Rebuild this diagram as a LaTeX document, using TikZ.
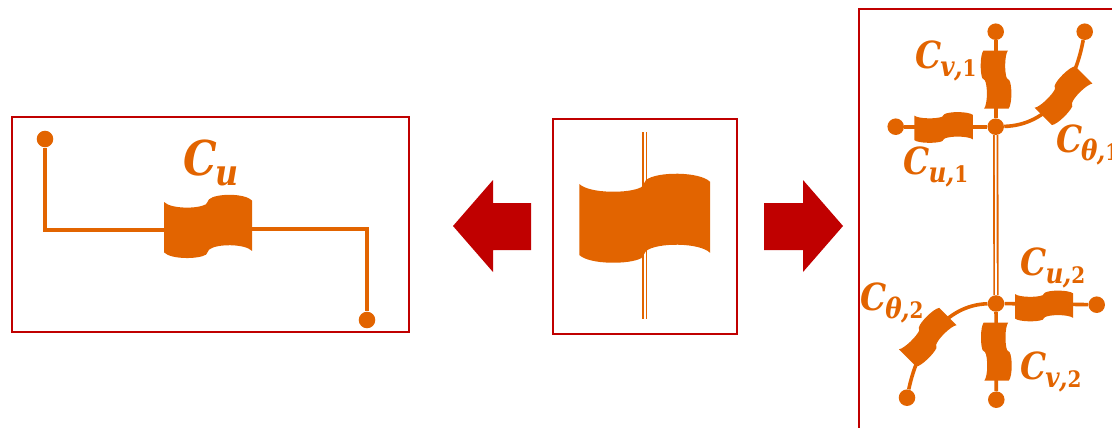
\documentclass[tikz,border=0pt]{standalone}
\usepackage{fontspec}
\setmainfont[FakeStretch=0.88]{DejaVu Serif}
\definecolor{flagc}{HTML}{E26400}
\definecolor{framec}{HTML}{C00000}
\newcommand{\biglbl}[1]{\fontsize{36}{36}\selectfont\bfseries\itshape C\kern-1.5pt\raisebox{-7.5pt}{\fontsize{27}{27}\selectfont #1}}
\newcommand{\smalllbl}[2]{\fontsize{28}{28}\selectfont\bfseries\itshape C\kern-1pt\raisebox{-6pt}{\fontsize{21}{21}\selectfont #1\kern-.5pt,\upshape\fontsize{17}{17}\selectfont #2}}
\tikzset{
  x=0.75pt,y=-0.75pt,
  framebox/.style={draw=framec,line width=1.5pt},
  wire/.style={draw=flagc,line width=2.7pt},
  rail/.style={draw=flagc,line width=1.4pt,double=white,double distance=1.2pt},
  dot/.style={circle,fill=flagc,inner sep=0pt,minimum size=12.4pt},
  bigarrow/.style={fill=framec},
  lbl/.style={text=flagc,inner sep=0pt,anchor=center},
  flag/.pic={
    \fill[flagc] (-65.2,-34.35) .. controls (-55,-24.6) and (-15,-24.6) .. (-3,-31.3)
      .. controls (-1,-33) and (-0.5,-36) .. (1.5,-38.3)
      .. controls (12,-47) and (55,-47) .. (65.5,-36.6)
      -- (65.5,34.4)
      .. controls (55,24) and (12,24) .. (1.5,32.7)
      .. controls (-0.5,35) and (-1,38) .. (-3,39.7)
      .. controls (-15,46.4) and (-55,46.4) .. (-65.2,36.65) -- cycle;
  }
}
\begin{document}
\begin{tikzpicture}
\useasboundingbox (0,0) rectangle (1112,428);
% frames
\draw[framebox] (12,116.5) rectangle (409,331.5);
\draw[framebox] (552.5,118.5) rectangle (737,334);
\draw[framebox] (1112,9.5) -- (858.5,9.5) -- (858.5,428);
% big arrows
\fill[bigarrow] (453,226) -- (493,180) -- (493,203) -- (531,203) -- (531,250) -- (493,250) -- (493,272) -- cycle;
\fill[bigarrow] (843,226) -- (803,180) -- (803,203) -- (764,203) -- (764,250) -- (803,250) -- (803,272) -- cycle;
% left panel
\node[dot] (a) at (45,139) {};
\node[dot] (b) at (367,320) {};
\coordinate (acorner) at (45,230);
\coordinate (aflag) at (208,230);
\coordinate (bflag) at (208,229);
\coordinate (bcorner) at (367,229);
\draw[wire] (a) -- (acorner) -- (aflag);
\draw[wire] (bflag) -- (bcorner) -- (b);
\pic[xscale=.672,yscale=.71] at (208,226.5) {flag};
\node[lbl] (lu) at (211,163) {\biglbl{u}};
% centre panel
\coordinate (railtop) at (644.8,132);
\coordinate (railbot) at (644.8,319);
\draw[rail] (railtop) -- (railbot);
\pic at (644.5,218.35) {flag};
% right panel
\node[dot] (j1) at (995.7,126.7) {};
\node[dot] (j2) at (996,303.5) {};
\node[dot] (v1) at (995.7,31.7) {};
\node[dot] (t1) at (1084.7,31.7) {};
\node[dot] (u1) at (895.7,126.7) {};
\node[dot] (u2) at (1096.7,304.7) {};
\node[dot] (t2) at (907,397.7) {};
\node[dot] (v2) at (996.3,399.7) {};
\draw[rail] (j1) -- (j2);
\draw[wire] (u1) -- (j1);
\draw[wire] (v1) -- (j1);
\draw[wire] (j2) -- (u2);
\draw[wire] (j2) -- (v2);
\draw[wire] (j1) .. controls (1050,125) and (1075,85) .. (t1);
\draw[wire] (j2) .. controls (945,305) and (918,345) .. (t2);
\pic[xscale=.448,yscale=.345] at (943.5,127.5) {flag};
\pic[rotate=-90,xscale=.443,yscale=.345] at (996,79.5) {flag};
\pic[rotate=45,xscale=.443,yscale=.345] at (1063.5,95.7) {flag};
\pic[xscale=.443,yscale=.345] at (1044,306) {flag};
\pic[rotate=-90,xscale=.443,yscale=.345] at (996.3,351.5) {flag};
\pic[rotate=45,xscale=.443,yscale=.345] at (927.7,337.3) {flag};
\node[lbl] (lv1) at (946,61) {\smalllbl{v}{1}};
\node[lbl] (lu1) at (936,167) {\smalllbl{u}{1}};
\node[lbl,anchor=west] (lt1) at (1056,145) {\smalllbl{θ}{1}};
\node[lbl] (lu2) at (1053,268) {\smalllbl{u}{2}};
\node[lbl] (lt2) at (892,303) {\smalllbl{θ}{2}};
\node[lbl] (lv2) at (1051,372) {\smalllbl{v}{2}};
\end{tikzpicture}
\end{document}
